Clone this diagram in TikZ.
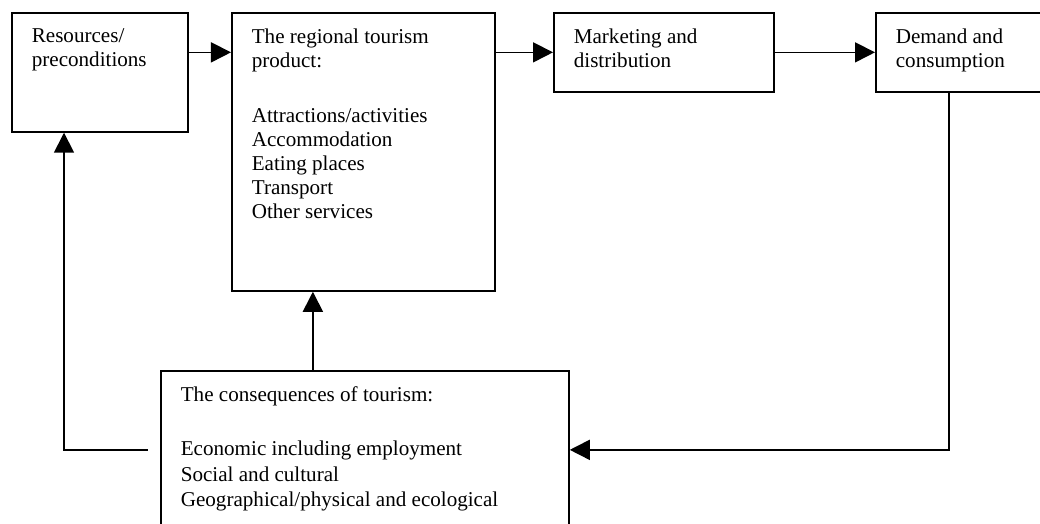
\documentclass[tikz,border=0pt]{standalone}
\usepackage{fontspec}
\setmainfont{Liberation Serif}
\usetikzlibrary{arrows.meta,calc}
\newcommand{\stagetext}[3]{\parbox[t][#2][t]{#1}{#3}}
\tikzset{
  >={Triangle[length=0.5cm,width=0.5cm]},
  stage/.style={draw,line width=1.2pt,anchor=north west,inner xsep=0.5cm,inner ysep=0.4cm,
    font=\fontsize{15}{17}\selectfont,align=left},
  link/.style={->,line width=1.2pt},
}
\begin{document}
\begin{tikzpicture}[x=0.025cm,y=-0.025cm]
    \clip (0,0) rectangle (1040,524);
    \fill[white] (0,0) rectangle (1040,524);
    % the five stages
    \node[stage] (res) at (11,12) {\stagetext{3.4cm}{2.175cm}{Resources/\\preconditions}};
    \node[stage] (prod) at (231,12) {\stagetext{5.575cm}{6.15cm}{The regional tourism\\product:\\[0.78cm]
      Attractions/activities\\Accommodation\\Eating places\\Transport\\Other services}};
    \node[stage] (mkt) at (553,12) {\stagetext{4.5cm}{1.175cm}{Marketing and\\distribution}};
    \node[stage] (dem) at (875,12) {\stagetext{3.5cm}{1.175cm}{Demand and\\consumption}};
    \node[stage,font=\fontsize{15}{18}\selectfont] (cons) at (160,370) {\stagetext{9.2cm}{3.15cm}{The consequences of tourism:\\[0.72cm]
      Economic including employment\\Social and cultural\\Geographical/physical and ecological}};
    % main chain
    \draw[link] (res.east |- mkt.west) -- (prod.west |- mkt.west);
    \draw[link] (prod.east |- mkt.west) -- (mkt.west);
    \draw[link] (mkt.east) -- (dem.west |- mkt.east);
    % feedback loops
    \draw[link] ([xshift=1.85cm]dem.south west) |- (cons.east);
    \draw[link] ([xshift=-1.3cm]cons.north) -- ([xshift=-1.3cm]cons.north |- prod.south);
    \coordinate (gap) at ([xshift=-0.3cm]cons.west);
    \draw[link] (gap) -| ([xshift=1.325cm]res.south west);
\end{tikzpicture}
\end{document}
